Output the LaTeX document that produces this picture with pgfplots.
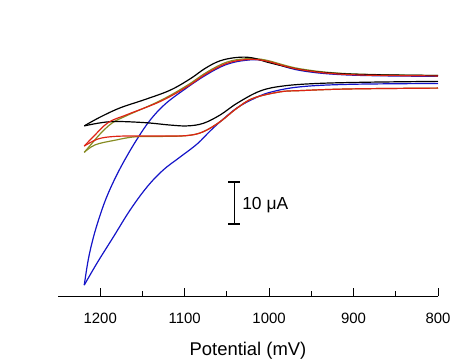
\documentclass[border=0pt]{standalone}
\usepackage{fontspec}
\setmainfont{Liberation Sans}
\usepackage{pgfplots}
\pgfplotsset{compat=1.18}
\definecolor{cvblack}{RGB}{0,0,0}
\definecolor{cvblue}{RGB}{20,20,200}
\definecolor{cvred}{RGB}{222,35,20}
\definecolor{cvolive}{RGB}{135,140,35}
\begin{document}
\begin{tikzpicture}
\path[use as bounding box] (-58bp,-64bp) rectangle (416bp,296bp);
\begin{axis}[
  scale only axis, width=380bp, height=256bp,
  xmin=800, xmax=1250, x dir=reverse,
  ymin=0, ymax=60.95,
  axis x line*=bottom, axis y line=none,
  axis line style={-, line width=0.9bp},
  xtick={800,900,1000,1100,1200},
  minor xtick={850,950,1050,1150},
  tick align=inside,
  major tick length=8bp, minor tick length=5bp,
  every tick/.style={line width=0.9bp, black},
  /pgf/number format/1000 sep={},
  /pgf/number format/assume math mode=true,
  tick label style={font=\fontsize{15}{17}\selectfont},
  xticklabel style={anchor=base, yshift=-27bp},
  xlabel={Potential (mV)},
  xlabel style={at={(axis description cs:0.5,0)}, anchor=base, yshift=-59bp, font=\fontsize{18.5}{22}\selectfont},
  clip=false,
  every axis plot/.append style={line width=1.2bp, smooth, tension=0.6, mark=none},
]
% blue
\addplot[cvblue] coordinates {(1218.9,2.6) (1214.2,8.6) (1208.3,13.8) (1201.2,18.6) (1192.9,23.3) (1182.2,28.1) (1170.4,32.6) (1156.2,37.4) (1140.8,41.9) (1123.1,45.7) (1099.4,49.3) (1075.7,52.5) (1052.1,55.0) (1028.4,56.1) (1004.7,56.0) (963.3,53.7) (904.1,52.6) (800,52.3)};
\addplot[cvblue] coordinates {(1218.9,2.6) (1203.6,7.9) (1184.6,14.0) (1164.5,20.5) (1144.4,26.0) (1125.4,30.0) (1105.3,33.1) (1085.2,36.2) (1069.8,39.3) (1055.6,41.9) (1037.9,44.8) (1018.9,46.9) (998.8,48.5) (963.3,49.8) (904.1,50.4) (800,50.6)};
% olive
\addplot[cvolive] coordinates {(1218.9,34.2) (1209.5,36.4) (1200,38.6) (1185.8,41.2) (1168,43.0) (1129,46.5) (1097.4,50.1) (1073.7,53.3) (1050,55.7) (1026.4,56.5) (1004.7,56.2) (963.3,54.1) (904.1,52.9) (800,52.5)};
\addplot[cvolive] coordinates {(1218.9,34.2) (1205.9,36.0) (1182.2,37.1) (1158.6,37.9) (1125.4,38.0) (1097,38.2) (1078.1,39.1) (1058,41.5) (1038.2,44.7) (1018.6,47.1) (987,48.6) (963.3,48.9) (904.1,49.3) (800,49.5)};
% black
\addplot[cvblack] coordinates {(1218.9,40.5) (1200,42.6) (1176.3,44.8) (1146.7,46.8) (1117.2,49.0) (1093.5,51.7) (1075.7,54.2) (1058,56.0) (1037.9,56.8) (1020.1,56.7) (998.8,55.5) (963.3,53.9) (927.8,53.1) (880.5,52.7) (800,52.5)};
\addplot[cvblack] coordinates {(1218.9,40.5) (1188.2,41.5) (1149.1,41.3) (1117.2,40.7) (1097,40.5) (1078.1,41.1) (1058,43.1) (1037.9,45.9) (1010.7,48.8) (983.4,50.0) (943.2,50.6) (884,50.9) (800,51.1)};
% red
\addplot[cvred] coordinates {(1218.9,35.7) (1208.3,37.9) (1190.5,41.3) (1168,43.2) (1129,46.3) (1097.4,49.8) (1073.7,53.0) (1050,55.4) (1026.4,56.3) (1004.7,56.0) (963.3,53.9) (904.1,52.7) (800,52.4)};
\addplot[cvred] coordinates {(1218.9,35.7) (1202.4,37.4) (1182.2,38.0) (1152.7,38.1) (1125.4,38.1) (1097,38.2) (1078.1,39.1) (1058,41.5) (1038.2,44.7) (1018.6,47.1) (987,48.6) (963.3,48.9) (904.1,49.3) (800,49.5)};
% scale bar
\draw[line width=1.1bp] (axis cs:1041.4,17.14) -- (axis cs:1041.4,27.14);
\draw[line width=1.1bp] (axis cs:1048.5,27.14) -- (axis cs:1034.3,27.14);
\draw[line width=1.1bp] (axis cs:1048.5,17.14) -- (axis cs:1034.3,17.14);
\node[anchor=base west, inner sep=0pt, font=\fontsize{17.5}{20}\selectfont] at (axis cs:1032,20.7) {10 μA};
\end{axis}
\end{tikzpicture}
\end{document}
